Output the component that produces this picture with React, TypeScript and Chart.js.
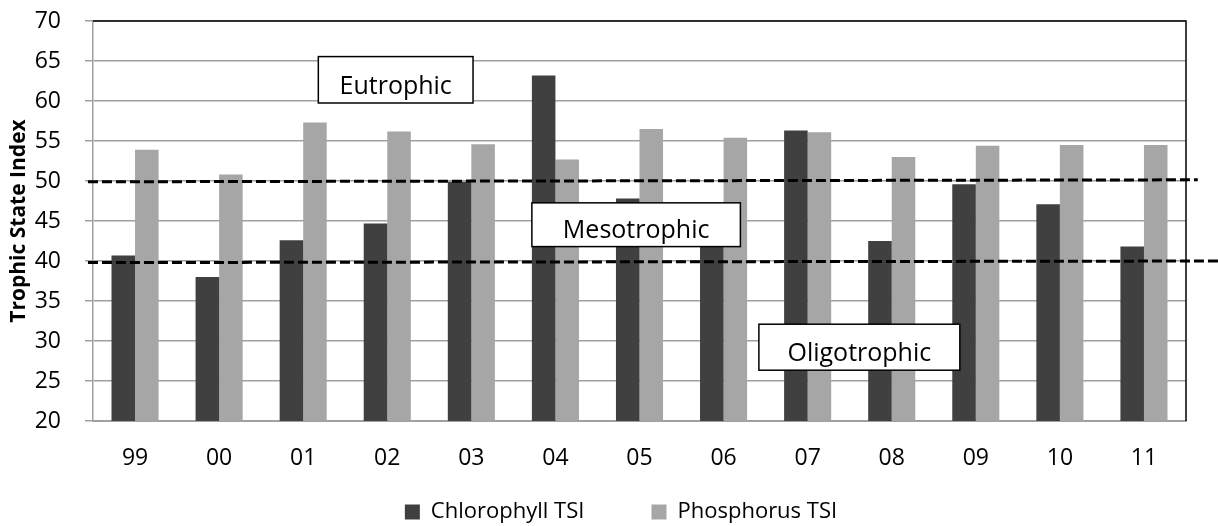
import React, { useEffect, useRef } from "react";
import { Chart, registerables } from "chart.js";

Chart.register(...registerables);

// Sampling years (two-digit labels) and the two trophic state indices
const years = ["99", "00", "01", "02", "03", "04", "05", "06", "07", "08", "09", "10", "11"];
const chlorophyllTSI = [40.7, 38.0, 42.6, 44.7, 49.9, 63.2, 47.8, 43.0, 56.3, 42.5, 49.6, 47.1, 41.8];
const phosphorusTSI = [53.9, 50.8, 57.3, 56.2, 54.6, 52.7, 56.5, 55.4, 56.1, 53.0, 54.4, 54.5, 54.5];

// Value axis range
const yMin = 20;
const yMax = 70;
const yStep = 5;

// Trophic class boundaries: category-index span and TSI at each end of the dashed line
const boundaryLines = [
  { from: -0.56, to: 12.64, values: [49.9, 50.15] },
  { from: -0.56, to: 12.95, values: [39.8, 40.0] },
];

// Class label boxes: category-index span (x) and TSI span (y, top then bottom)
const classLabels = [
  { text: "Eutrophic", x: [2.18, 4.02], y: [65.55, 59.75] },
  { text: "Mesotrophic", x: [4.72, 7.2], y: [47.27, 41.8] },
  { text: "Oligotrophic", x: [7.42, 9.81], y: [32.1, 26.35] },
];

const FONT = "'Open Sans', 'Noto Sans', sans-serif";
// extra room after the first legend entry (blank text keeps the entries well apart)
const LEGEND_GAP = "          ";

const trophicOverlay = {
  id: "trophicOverlay",
  afterLayout(chart: any) {
    // the legend row sits a little right of the canvas centre
    const legend = chart.legend;
    if (legend) {
      legend.left += 28;
      legend.right += 28;
    }
  },
  afterDatasetsDraw(chart: any) {
    const { ctx, chartArea, scales } = chart;
    const x = scales.x;
    const y = scales.y;
    ctx.save();

    // black frame on the top and right of the plot
    ctx.strokeStyle = "#000";
    ctx.lineWidth = 1.5;
    ctx.beginPath();
    ctx.moveTo(chartArea.left, chartArea.top);
    ctx.lineTo(chartArea.right, chartArea.top);
    ctx.lineTo(chartArea.right, chartArea.bottom);
    ctx.stroke();

    // dashed class boundaries
    ctx.setLineDash([10, 4]);
    ctx.lineWidth = 3;
    for (const b of boundaryLines) {
      ctx.beginPath();
      ctx.moveTo(x.getPixelForValue(b.from), y.getPixelForValue(b.values[0]));
      ctx.lineTo(x.getPixelForValue(b.to), y.getPixelForValue(b.values[1]));
      ctx.stroke();
    }
    ctx.setLineDash([]);

    // labelled boxes
    ctx.font = `25px ${FONT}`;
    ctx.textAlign = "center";
    ctx.textBaseline = "alphabetic";
    for (const l of classLabels) {
      const x0 = x.getPixelForValue(l.x[0]);
      const x1 = x.getPixelForValue(l.x[1]);
      const y0 = y.getPixelForValue(l.y[0]);
      const y1 = y.getPixelForValue(l.y[1]);
      ctx.fillStyle = "#fff";
      ctx.fillRect(x0, y0, x1 - x0, y1 - y0);
      ctx.strokeStyle = "#000";
      ctx.lineWidth = 1.5;
      ctx.strokeRect(x0, y0, x1 - x0, y1 - y0);
      ctx.fillStyle = "#000";
      ctx.fillText(l.text, (x0 + x1) / 2, y1 - 9);
    }
    ctx.restore();
  },
};

export default function App() {
  const canvasRef = useRef<HTMLCanvasElement | null>(null);

  useEffect(() => {
    if (!canvasRef.current) return;
    const chart = new Chart(canvasRef.current, {
      type: "bar",
      data: {
        labels: years,
        datasets: [
          { label: "Chlorophyll TSI", data: chlorophyllTSI, backgroundColor: "#404040", borderWidth: 0 },
          { label: "Phosphorus TSI", data: phosphorusTSI, backgroundColor: "#a6a6a6", borderWidth: 0 },
        ],
      },
      options: {
        animation: false,
        responsive: true,
        maintainAspectRatio: false,
        layout: { padding: { top: 21, right: 32, bottom: -7, left: 0 } },
        datasets: { bar: { categoryPercentage: 0.56, barPercentage: 1 } },
        plugins: {
          legend: {
            position: "bottom",
            labels: {
              boxWidth: 15,
              boxHeight: 15,
              padding: 10,
              color: "#000",
              font: { family: FONT, size: 22 },
              generateLabels: (c: any) => {
                const items = Chart.defaults.plugins.legend.labels.generateLabels(c);
                return items.map((it: any, i: number) =>
                  i < items.length - 1 ? { ...it, text: it.text + LEGEND_GAP } : it
                );
              },
            },
          },
          tooltip: { enabled: false },
        },
        scales: {
          x: {
            grid: { display: false, drawTicks: false },
            border: { color: "#a0a0a0", width: 2 },
            ticks: { color: "#000", font: { family: FONT, size: 23 }, padding: 24 },
            afterFit: (s: any) => {
              s.height = 70;
            },
          },
          y: {
            min: yMin,
            max: yMax,
            ticks: { stepSize: yStep, color: "#000", font: { family: FONT, size: 23 }, padding: 24 },
            grid: { color: "#a0a0a0", lineWidth: 1.5, tickLength: 8 },
            border: { color: "#a0a0a0", width: 1.5 },
            title: {
              display: true,
              text: "Trophic State Index",
              color: "#000",
              font: { family: FONT, size: 21, weight: "bold" },
              padding: { top: 6, bottom: 0 },
            },
            afterFit: (s: any) => {
              s.width = 93;
              // the plot's top/bottom margins come from the layout padding alone
              s.paddingTop = 0;
              s.paddingBottom = 0;
            },
          },
        },
      },
      plugins: [trophicOverlay],
    });
    return () => chart.destroy();
  }, []);

  return (
    <div style={{ position: "fixed", left: 0, top: 0, width: 1218, height: 526, background: "#fff" }}>
      <canvas ref={canvasRef} />
    </div>
  );
}
